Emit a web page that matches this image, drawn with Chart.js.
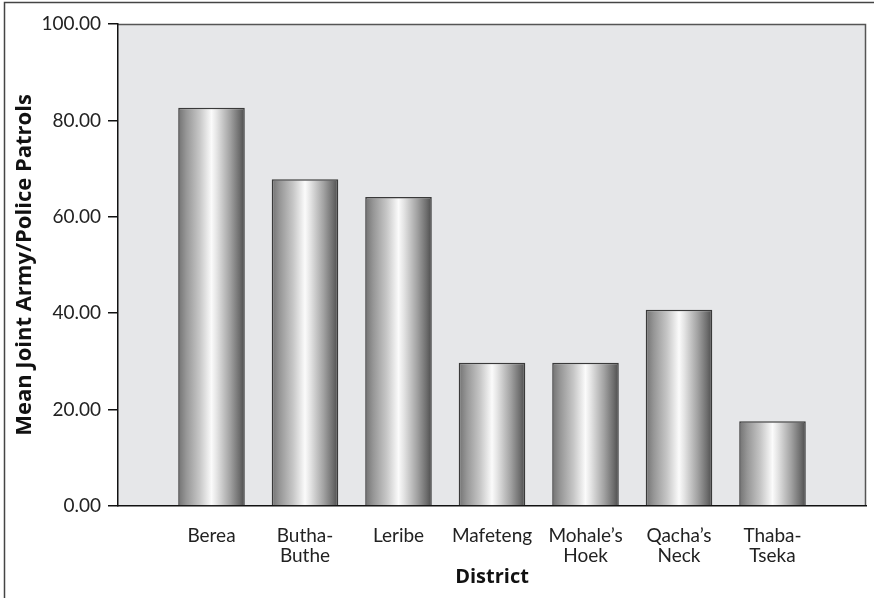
<!DOCTYPE html>
<html>
<head>
<meta charset="utf-8">
<script src="https://cdn.jsdelivr.net/npm/chart.js@4.4.1/dist/chart.umd.min.js"></script>
<style>
  html, body { margin: 0; padding: 0; background: #ffffff; }
  #wrap { width: 874px; height: 598px; position: relative; }
</style>
</head>
<body>
<div id="wrap"><canvas id="c" width="874" height="598"></canvas></div>
<script>
// ---- data ----
const districts = ['Berea', ['Butha-', 'Buthe'], 'Leribe', 'Mafeteng', ['Mohale\u2019s', 'Hoek'], ['Qacha\u2019s', 'Neck'], ['Thaba-', 'Tseka']];
const meanPatrols = [82.6, 67.8, 64.1, 29.7, 29.7, 40.7, 17.6];
const yTickValues = [0, 20, 40, 60, 80, 100];
const yTitle = 'Mean Joint Army/Police Patrols';
const xTitle = 'District';

// padded table for the category axis (empty slot at each end)
const chartLabels = [''].concat(districts, ['']);
const chartValues = [null].concat(meanPatrols, [null]);

const FONT = 'Lato, "Open Sans", "DejaVu Sans", sans-serif';
const TITLE_FONT = '"Open Sans", Lato, "DejaVu Sans", sans-serif';

const framePlugin = {
  id: 'frame',
  beforeDraw(chart) {
    const {ctx, chartArea: a} = chart;
    ctx.save();
    ctx.fillStyle = '#ffffff';
    ctx.fillRect(0, 0, chart.width, chart.height);
    ctx.fillStyle = '#e6e7e9';
    ctx.fillRect(a.left, a.top, a.right - a.left, a.bottom - a.top);
    // outer frame (left and top)
    ctx.strokeStyle = '#444';
    ctx.lineWidth = 1.5;
    ctx.beginPath();
    ctx.moveTo(4.5, chart.height);
    ctx.lineTo(4.5, 2.5);
    ctx.lineTo(chart.width, 2.5);
    ctx.stroke();
    // plot top & right border
    ctx.strokeStyle = '#555';
    ctx.lineWidth = 1.5;
    ctx.beginPath();
    ctx.moveTo(a.left, a.top + 0.5);
    ctx.lineTo(a.right - 0.5, a.top + 0.5);
    ctx.lineTo(a.right - 0.5, a.bottom);
    ctx.stroke();
    ctx.restore();
  },
  beforeDatasetsDraw(chart) {
    const {ctx} = chart;
    chart.getDatasetMeta(0).data.forEach(el => {
      if (!el || el.skip) return;
      const w = el.width, x0 = el.x - w / 2;
      if (!isFinite(x0)) return;
      const g = ctx.createLinearGradient(x0, 0, x0 + w, 0);
      g.addColorStop(0, '#727272');
      g.addColorStop(0.12, '#969696');
      g.addColorStop(0.32, '#c6c6c6');
      g.addColorStop(0.5, '#fbfbfb');
      g.addColorStop(0.58, '#e4e4e4');
      g.addColorStop(0.78, '#a2a2a2');
      g.addColorStop(0.92, '#6e6e6e');
      g.addColorStop(1, '#4c4c4c');
      el.options = Object.assign({}, el.options, { backgroundColor: g });
    });
  }
};

new Chart(document.getElementById('c'), {
  type: 'bar',
  data: {
    labels: chartLabels,
    datasets: [{
      data: chartValues,
      backgroundColor: '#bbbbbb',
      borderColor: '#3a3a3a',
      borderWidth: 1.5,
      borderSkipped: 'bottom',
      categoryPercentage: 1,
      barPercentage: 0.712
    }]
  },
  options: {
    responsive: false,
    animation: false,
    devicePixelRatio: 1,
    layout: { padding: { left: 0, top: 24, right: 8, bottom: 0 } },
    plugins: { legend: { display: false }, tooltip: { enabled: false } },
    scales: {
      x: {
        offset: false,
        afterFit(scale) { scale.height = 92; scale.paddingLeft = 0; scale.paddingRight = 0; },
        grid: { display: true, drawOnChartArea: false, drawTicks: false, tickLength: 0, color: 'rgba(0,0,0,0)' },
        border: { display: true, color: '#111', width: 1.5 },
        ticks: {
          color: '#222', padding: 20, maxRotation: 0, autoSkip: false,
          font: { family: FONT, size: 19, lineHeight: 1.05 }
        },
        title: {
          display: true, text: xTitle, color: '#111',
          font: { family: TITLE_FONT, size: 20, weight: 'bold' },
          padding: { top: 0, bottom: 9 }
        }
      },
      y: {
        min: 0, max: 100,
        afterFit(scale) { scale.width = 118; scale.paddingTop = 0; scale.paddingBottom = 0; },
        afterBuildTicks(scale) { scale.ticks = yTickValues.map(v => ({ value: v })); },
        grid: { display: true, drawOnChartArea: false, drawTicks: true, tickLength: 10, color: '#111', lineWidth: 1.5 },
        border: { display: true, color: '#111', width: 1.5 },
        ticks: {
          color: '#222', padding: 7,
          font: { family: FONT, size: 19 },
          callback: v => Number(v).toFixed(2)
        },
        title: {
          display: true, text: yTitle, color: '#111',
          font: { family: TITLE_FONT, size: 22, weight: 'bold' },
          padding: { top: 12, bottom: 0 }
        }
      }
    }
  },
  plugins: [framePlugin]
});
</script>
</body>
</html>
